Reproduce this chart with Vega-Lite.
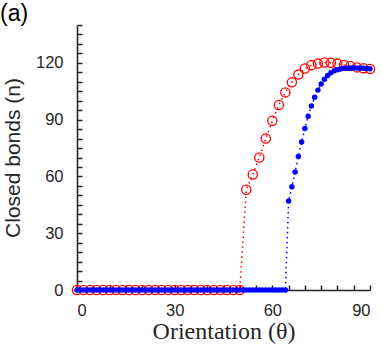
{
  "$schema": "https://vega.github.io/schema/vega-lite/v6.json",
  "width": 293,
  "height": 265,
  "autosize": {"type": "none"},
  "padding": {"left": 77, "top": 25, "right": 12, "bottom": 59},
  "background": "white",
  "config": {
    "view": {"stroke": null},
    "font": "Liberation Sans",
    "axis": {
      "domainColor": "#262626",
      "domainWidth": 1.6,
      "tickColor": "#262626",
      "tickWidth": 1.5,
      "ticks": true,
      "labelColor": "#262626",
      "labelFont": "Liberation Sans",
      "labelFontSize": 16.5,
      "grid": false,
      "titleFontWeight": "normal",
      "titleColor": "#262626"
    }
  },
  "title": {
    "text": "(a)",
    "anchor": "start",
    "frame": "group",
    "dx": -77,
    "offset": -2,
    "fontSize": 23,
    "font": "Liberation Sans",
    "fontWeight": "normal",
    "color": "#000000"
  },
  "data": {
    "values": [
      {"theta": 0, "n": 0, "s": "red"}, {"theta": 2, "n": 0, "s": "red"}, {"theta": 4, "n": 0, "s": "red"}, {"theta": 6, "n": 0, "s": "red"},
      {"theta": 8, "n": 0, "s": "red"}, {"theta": 10, "n": 0, "s": "red"}, {"theta": 12, "n": 0, "s": "red"}, {"theta": 14, "n": 0, "s": "red"},
      {"theta": 16, "n": 0, "s": "red"}, {"theta": 18, "n": 0, "s": "red"}, {"theta": 20, "n": 0, "s": "red"}, {"theta": 22, "n": 0, "s": "red"},
      {"theta": 24, "n": 0, "s": "red"}, {"theta": 26, "n": 0, "s": "red"}, {"theta": 28, "n": 0, "s": "red"}, {"theta": 30, "n": 0, "s": "red"},
      {"theta": 32, "n": 0, "s": "red"}, {"theta": 34, "n": 0, "s": "red"}, {"theta": 36, "n": 0, "s": "red"}, {"theta": 38, "n": 0, "s": "red"},
      {"theta": 40, "n": 0, "s": "red"}, {"theta": 42, "n": 0, "s": "red"}, {"theta": 44, "n": 0, "s": "red"}, {"theta": 46, "n": 0, "s": "red"},
      {"theta": 48, "n": 0, "s": "red"}, {"theta": 50, "n": 0, "s": "red"},
      {"theta": 52, "n": 53, "s": "red"}, {"theta": 54, "n": 61, "s": "red"}, {"theta": 56, "n": 70, "s": "red"}, {"theta": 58, "n": 80, "s": "red"},
      {"theta": 60, "n": 89.4, "s": "red"}, {"theta": 62, "n": 97.7, "s": "red"}, {"theta": 64, "n": 104.4, "s": "red"}, {"theta": 66, "n": 109.7, "s": "red"},
      {"theta": 68, "n": 113.8, "s": "red"}, {"theta": 70, "n": 117, "s": "red"}, {"theta": 72, "n": 118.8, "s": "red"}, {"theta": 74, "n": 119.6, "s": "red"},
      {"theta": 76, "n": 120.2, "s": "red"}, {"theta": 78, "n": 120, "s": "red"}, {"theta": 80, "n": 119.6, "s": "red"}, {"theta": 82, "n": 118.9, "s": "red"},
      {"theta": 84, "n": 118.3, "s": "red"}, {"theta": 86, "n": 117.6, "s": "red"}, {"theta": 88, "n": 117.2, "s": "red"}, {"theta": 90, "n": 116.8, "s": "red"},

      {"theta": 0, "n": 0, "s": "blue"}, {"theta": 1, "n": 0, "s": "blue"}, {"theta": 2, "n": 0, "s": "blue"}, {"theta": 3, "n": 0, "s": "blue"},
      {"theta": 4, "n": 0, "s": "blue"}, {"theta": 5, "n": 0, "s": "blue"}, {"theta": 6, "n": 0, "s": "blue"}, {"theta": 7, "n": 0, "s": "blue"},
      {"theta": 8, "n": 0, "s": "blue"}, {"theta": 9, "n": 0, "s": "blue"}, {"theta": 10, "n": 0, "s": "blue"}, {"theta": 11, "n": 0, "s": "blue"},
      {"theta": 12, "n": 0, "s": "blue"}, {"theta": 13, "n": 0, "s": "blue"}, {"theta": 14, "n": 0, "s": "blue"}, {"theta": 15, "n": 0, "s": "blue"},
      {"theta": 16, "n": 0, "s": "blue"}, {"theta": 17, "n": 0, "s": "blue"}, {"theta": 18, "n": 0, "s": "blue"}, {"theta": 19, "n": 0, "s": "blue"},
      {"theta": 20, "n": 0, "s": "blue"}, {"theta": 21, "n": 0, "s": "blue"}, {"theta": 22, "n": 0, "s": "blue"}, {"theta": 23, "n": 0, "s": "blue"},
      {"theta": 24, "n": 0, "s": "blue"}, {"theta": 25, "n": 0, "s": "blue"}, {"theta": 26, "n": 0, "s": "blue"}, {"theta": 27, "n": 0, "s": "blue"},
      {"theta": 28, "n": 0, "s": "blue"}, {"theta": 29, "n": 0, "s": "blue"}, {"theta": 30, "n": 0, "s": "blue"}, {"theta": 31, "n": 0, "s": "blue"},
      {"theta": 32, "n": 0, "s": "blue"}, {"theta": 33, "n": 0, "s": "blue"}, {"theta": 34, "n": 0, "s": "blue"}, {"theta": 35, "n": 0, "s": "blue"},
      {"theta": 36, "n": 0, "s": "blue"}, {"theta": 37, "n": 0, "s": "blue"}, {"theta": 38, "n": 0, "s": "blue"}, {"theta": 39, "n": 0, "s": "blue"},
      {"theta": 40, "n": 0, "s": "blue"}, {"theta": 41, "n": 0, "s": "blue"}, {"theta": 42, "n": 0, "s": "blue"}, {"theta": 43, "n": 0, "s": "blue"},
      {"theta": 44, "n": 0, "s": "blue"}, {"theta": 45, "n": 0, "s": "blue"}, {"theta": 46, "n": 0, "s": "blue"}, {"theta": 47, "n": 0, "s": "blue"},
      {"theta": 48, "n": 0, "s": "blue"}, {"theta": 49, "n": 0, "s": "blue"}, {"theta": 50, "n": 0, "s": "blue"}, {"theta": 51, "n": 0, "s": "blue"},
      {"theta": 52, "n": 0, "s": "blue"}, {"theta": 53, "n": 0, "s": "blue"}, {"theta": 54, "n": 0, "s": "blue"}, {"theta": 55, "n": 0, "s": "blue"},
      {"theta": 56, "n": 0, "s": "blue"}, {"theta": 57, "n": 0, "s": "blue"}, {"theta": 58, "n": 0, "s": "blue"}, {"theta": 59, "n": 0, "s": "blue"},
      {"theta": 60, "n": 0, "s": "blue"}, {"theta": 61, "n": 0, "s": "blue"}, {"theta": 62, "n": 0, "s": "blue"}, {"theta": 63, "n": 0, "s": "blue"},
      {"theta": 64, "n": 0, "s": "blue"},
      {"theta": 65, "n": 47, "s": "blue"}, {"theta": 66, "n": 54.5, "s": "blue"}, {"theta": 67, "n": 62.3, "s": "blue"}, {"theta": 68, "n": 70.5, "s": "blue"},
      {"theta": 69, "n": 78.2, "s": "blue"}, {"theta": 70, "n": 85.3, "s": "blue"}, {"theta": 71, "n": 91.8, "s": "blue"}, {"theta": 72, "n": 97.2, "s": "blue"},
      {"theta": 73, "n": 101.8, "s": "blue"}, {"theta": 74, "n": 105.6, "s": "blue"}, {"theta": 75, "n": 108.8, "s": "blue"}, {"theta": 76, "n": 111.3, "s": "blue"},
      {"theta": 77, "n": 113.3, "s": "blue"}, {"theta": 78, "n": 114.8, "s": "blue"}, {"theta": 79, "n": 115.8, "s": "blue"}, {"theta": 80, "n": 116.4, "s": "blue"},
      {"theta": 81, "n": 116.8, "s": "blue"}, {"theta": 82, "n": 117.1, "s": "blue"}, {"theta": 83, "n": 117.2, "s": "blue"}, {"theta": 84, "n": 117.3, "s": "blue"},
      {"theta": 85, "n": 117.3, "s": "blue"}, {"theta": 86, "n": 117.3, "s": "blue"}, {"theta": 87, "n": 117.2, "s": "blue"}, {"theta": 88, "n": 117.1, "s": "blue"},
      {"theta": 89, "n": 117, "s": "blue"}, {"theta": 90, "n": 116.9, "s": "blue"}
    ]
  },
  "encoding": {
    "x": {
      "field": "theta", "type": "quantitative",
      "scale": {"domain": [0, 90], "nice": false, "zero": false},
      "axis": {
        "values": [0,5,10,15,20,25,30,35,40,45,50,55,60,65,70,75,80,85,90],
        "labelExpr": "datum.value % 30 === 0 ? datum.label : ''",
        "tickSize": -5,
        "labelPadding": 17,
        "title": "Orientation (θ)",
        "titleFont": "Liberation Serif",
        "titleFontSize": 24,
        "titlePadding": 1
      }
    },
    "y": {
      "field": "n", "type": "quantitative",
      "scale": {"domain": [0, 140], "nice": false},
      "axis": {
        "values": [0,5,10,15,20,25,30,35,40,45,50,55,60,65,70,75,80,85,90,95,100,105,110,115,120,125,130,135,140],
        "labelExpr": "datum.value % 30 === 0 ? datum.label : ''",
        "tickSize": -5,
        "labelPadding": 19,
        "title": "Closed bonds (n)",
        "titleFont": "Liberation Sans",
        "titleFontSize": 21,
        "titlePadding": 12
      }
    },
    "color": {
      "field": "s", "type": "nominal",
      "scale": {"domain": ["red", "blue"], "range": ["#FF0000", "#0000FF"]},
      "legend": null
    }
  },
  "layer": [
    {
      "transform": [{"filter": "datum.s === 'red'"}],
      "mark": {"type": "line", "strokeDash": [1.5, 3.5], "strokeWidth": 1.5}
    },
    {
      "transform": [{"filter": "datum.s === 'red'"}],
      "mark": {"type": "point", "shape": "circle", "filled": false, "size": 85, "strokeWidth": 1.3, "opacity": 1}
    },
    {
      "transform": [{"filter": "datum.s === 'blue'"}],
      "mark": {"type": "line", "strokeDash": [1.5, 3.5], "strokeWidth": 1.5}
    },
    {
      "transform": [{"filter": "datum.s === 'blue'"}],
      "mark": {"type": "point", "shape": "circle", "filled": true, "size": 30, "opacity": 1}
    }
  ]
}
